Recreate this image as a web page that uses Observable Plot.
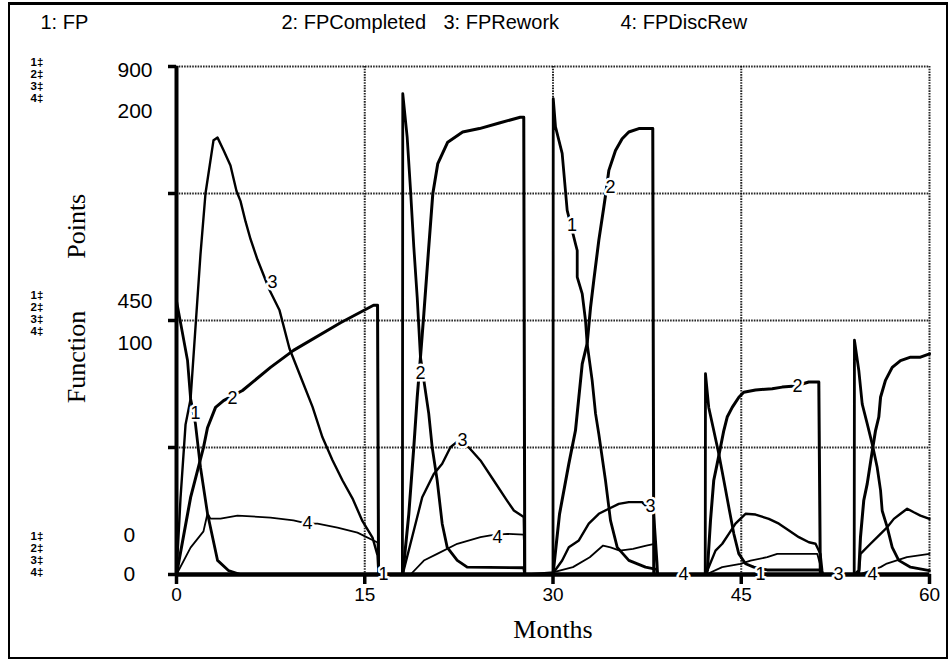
<!DOCTYPE html>
<html><head><meta charset="utf-8">
<script src="https://cdn.jsdelivr.net/npm/d3@7"></script>
<script src="https://cdn.jsdelivr.net/npm/@observablehq/plot@0.6"></script>
<style>
html,body{margin:0;padding:0;background:#fff;}
#chart{position:relative;width:951px;height:667px;overflow:hidden;}
#border{position:absolute;left:8px;top:2px;width:936px;height:652px;border:2px solid #000;border-top-width:3px;pointer-events:none;}
</style></head><body><div id="chart"><div id="border"></div></div>
<script>
// ---- data (months, value) ----
const legendItems = ["1: FP", "2: FPCompleted", "3: FPRework", "4: FPDiscRew"];
const monthTicks = [0, 15, 30, 45, 60];
const gridValues = [225, 450, 675, 900];
const tickValues = [0, 450, 900];
const labelsScaleA = ["0", "450", "900"];   // series 1, 2 (0-900)
const labelsScaleB = ["0", "100", "200"];   // series 3, 4 (0-200)

const FP = [[0,0],[0,485],[0.88,379],[1.12,312],[1.51,267],[1.91,190],[2.47,108],[3.27,25],[4.14,7],[5.1,0],
[18.0,0],[18.03,852],[18.38,775],[18.65,680],[18.91,580],[19.18,491],[19.44,385],[19.71,344],[20.1,285],[20.37,226],[20.77,167],[21.17,90],[21.57,48],[22.37,25],[23.16,13],[27.67,12],[27.75,0],
[30.0,0],[30.02,843],[30.2,793],[30.73,746],[31.13,645],[31.79,586],[31.93,574],[31.93,527],[32.33,497],[32.59,450],[32.72,409],[33.12,344],[33.39,285],[33.65,249],[34.18,167],[34.58,96],[35.12,48],[36.04,25],[37.37,13],[38.25,9],[38.3,0],
[42.13,0],[42.15,356],[42.41,296],[42.81,255],[43.21,214],[43.61,167],[44.01,119],[44.41,72],[44.8,37],[45.34,19],[46.0,13],[47.07,8],[51.3,8],[51.4,0],
[54.0,0],[54.02,415],[54.37,361],[54.64,302],[55.04,267],[55.49,226],[55.83,190],[56.1,149],[56.23,113],[56.63,84],[57.03,48],[57.55,25],[58.49,13],[60,7]];

const FPCompleted = [[0,0],[1.12,136],[2.15,225],[2.47,260],[3.11,296],[3.75,308],[5.26,326],[7.49,367],[9.32,397],[13.07,446],[15.7,477],[16.02,477],[16.1,0],
[18.03,0],[18.51,107],[18.91,226],[19.18,314],[19.44,385],[19.71,462],[20.1,580],[20.42,674],[20.82,728],[21.61,766],[22.8,784],[24.14,790],[25.72,800],[27.39,810],[27.67,810],[27.75,0],
[30.0,0],[30.52,107],[31.26,196],[31.79,255],[32.06,314],[32.33,373],[32.72,409],[32.99,473],[33.25,521],[33.65,592],[34.05,651],[34.18,671],[34.45,716],[34.98,751],[35.51,772],[36.04,784],[36.84,790],[37.95,790],[38.03,0],
[42.15,0],[42.3,7],[42.55,96],[42.81,167],[43.08,196],[43.35,226],[43.61,255],[43.88,279],[44.28,296],[44.81,314],[45.2,323],[46.14,327],[47.47,329],[48.26,332],[49.32,334],[50.38,341],[51.18,341],[51.3,0],
[54.02,0],[54.37,7],[54.5,66],[54.76,131],[55.04,161],[55.49,226],[55.7,255],[55.96,279],[56.1,314],[56.49,344],[57.03,367],[57.69,379],[58.49,385],[59.28,385],[60,391]];

const FPRework = [[0,0],[0.32,30],[0.72,59],[1.12,69],[1.91,126],[2.31,150],[2.95,171],[3.27,172],[3.75,167],[4.3,161],[4.78,151],[5.1,147],[5.5,139],[5.9,132],[6.45,124],[7.41,112],[8.21,104],[9.0,89],[10.04,76],[10.84,66],[11.63,54],[12.43,45],[13.23,37],[14.02,30],[14.82,21],[15.62,14.5],[16.02,7.5],[16.1,0],
[18.03,0],[18.1,1.6],[18.91,17.3],[19.58,30.4],[20.5,39.6],[21.17,43.6],[21.83,50.1],[22.3,52],[23.28,50.1],[24.22,44.9],[25.28,37],[26.35,29],[26.88,25.2],[27.67,22.6],[27.75,0],
[30.0,0],[30.06,0.9],[30.73,5.5],[31.26,10.7],[32.06,13.4],[32.85,20],[33.65,23.9],[34.45,25.9],[35.24,27.8],[36.04,28.5],[37.1,28.5],[38.04,23.9],[38.3,5],[38.35,0],
[42.15,0],[42.3,1.6],[42.95,9.4],[43.49,12.1],[44.01,16],[44.54,20],[45.34,23.9],[46.14,23.6],[47.2,21.9],[48.0,20],[48.8,17.3],[49.59,14.7],[50.39,12.7],[50.92,12.1],[51.31,8.1],[51.45,1.6],[51.5,0],
[54.37,0],[54.5,8.1],[55.3,12.1],[56.1,16],[56.63,18.6],[57.16,21.9],[57.69,23.9],[58.22,25.9],[58.75,24.5],[59.28,23.2],[60,21.9]];

const FPDiscRew = [[0,0],[1.12,10.6],[2.15,17],[2.47,24],[2.71,22],[3.51,22],[4.86,23.2],[7.49,22.4],[9.32,21.3],[10.44,20],[11.24,20],[12.83,18.5],[14.42,16.5],[16.02,12.6],[16.1,0],
[18.65,0],[19.71,5.5],[20.77,8.1],[22.37,12.1],[24.22,14.7],[25.02,15.4],[26.35,16],[27.67,15.7],[27.75,0],
[30.06,0.9],[31.59,2.9],[32.93,6.8],[33.99,11.4],[34.58,10.7],[35.32,9.4],[36.38,10.1],[37.43,11.4],[38.1,12.1],[38.25,2.9],[38.35,0],
[42.2,0],[43.48,2.9],[44.94,4.2],[45.74,5.5],[47.07,6.8],[47.87,8.1],[51.06,8.1],[51.5,0],
[54.4,0],[56.1,2.9],[56.6,4.3],[58.2,6.8],[60,8.1]];

// line labels: [series, month, value in that series' units]
const lineLabels = [[1,1.51,285],[2,4.46,312],[3,7.65,115],[4,10.44,20],[1,16.49,0],
[2,19.44,356],[3,22.79,52.8],[4,25.58,14.6],
[1,31.51,618],[2,34.58,686],[3,37.77,26.8],[4,40.4,0],
[1,46.53,0],[2,49.48,333],[3,52.75,0],[4,55.46,0]];

// ---- build ----
const ratioB = 900 / 200; // series 3 and 4 use the 0-200 scale
const toY = (s, v) => (s >= 3 ? v * ratioB : v);
const rows = (arr, s) => arr.map(([m, v]) => ({series: s, month: m, y: toY(s, v)}));
const seriesData = [FP, FPCompleted, FPRework, FPDiscRew].map((a, i) => rows(a, i + 1));
const widths = [2.8, 3, 2.4, 1.8];
const labelRows = lineLabels.map(([s, m, v]) => ({month: m, y: toY(s, v), text: String(s)}));

const sans = "'Liberation Sans', Arial, Helvetica, sans-serif";
const serif = "'Liberation Serif', 'Times New Roman', serif";

const marks = [];
const dotted = {stroke: "#000", strokeOpacity: 0.85, strokeWidth: 2, strokeDasharray: "1.6,1.1"};
marks.push(Plot.gridX({ticks: monthTicks.slice(1), ...dotted}));
marks.push(Plot.gridY({ticks: gridValues, ...dotted}));
seriesData.forEach((d, i) => marks.push(Plot.line(d, {x: "month", y: "y", stroke: "#000", strokeWidth: widths[i], strokeLinejoin: "round"})));
marks.push(Plot.ruleX([0], {stroke: "#000", strokeWidth: 4}));
marks.push(Plot.ruleY([0], {stroke: "#000", strokeWidth: 4.5}));
marks.push(Plot.axisX({ticks: monthTicks, tickSize: 10, strokeWidth: 3.5, tickPadding: 3, fontSize: 19, label: null, tickFormat: d => String(d)}));
marks.push(Plot.axisY({ticks: [0, ...gridValues], tickSize: 8, strokeWidth: 3.5, tickFormat: () => "", label: null}));
marks.push(Plot.text(labelRows, {x: "month", y: "y", text: "text", fill: "#000", stroke: "#fff", strokeWidth: 5, fontSize: 18, fontFamily: sans}));

// y-axis value labels (two scales)
const offA = [-39, -19, 4], offB = [0, 23, 45];
tickValues.forEach((t, i) => {
  const dx = i === 0 ? -53 : -59;
  marks.push(Plot.text([t], {y: d => d, text: () => labelsScaleA[i], frameAnchor: "left", dx, dy: offA[i], textAnchor: "start", lineAnchor: "middle", fontSize: 21, letterSpacing: 2.5, fontFamily: sans}));
  marks.push(Plot.text([t], {y: d => d, text: () => labelsScaleB[i], frameAnchor: "left", dx, dy: offB[i], textAnchor: "start", lineAnchor: "middle", fontSize: 21, letterSpacing: 2.5, fontFamily: sans}));
});
// series number stacks
const stackOff = [[-38, -26, -14, -2], [-25, -13, -1, 11], [-4, 8, 20, 32]];
tickValues.forEach((t, i) => {
  ["1","2","3","4"].forEach((n, k) => {
    marks.push(Plot.text([t], {y: d => d, text: () => n + "\u2021", frameAnchor: "left", dx: -146, dy: stackOff[i][k], textAnchor: "start", lineAnchor: "middle", fontSize: 11.5, fontWeight: "bold", fontFamily: sans}));
  });
});
// legend
const legendDx = [-136, 105, 267, 444];
legendItems.forEach((t, i) => marks.push(Plot.text([t], {frameAnchor: "top-left", dx: legendDx[i], dy: -44, textAnchor: "start", lineAnchor: "middle", fontSize: 20, letterSpacing: 0.4, fontFamily: sans})));
// axis titles
marks.push(Plot.text(["Months"], {frameAnchor: "bottom", dy: 55, lineAnchor: "middle", textAnchor: "middle", fontSize: 26, fontFamily: serif, letterSpacing: 1.5}));
marks.push(Plot.text(["Function\u00A0\u00A0\u00A0\u00A0\u00A0\u00A0\u00A0\u00A0Points"], {frameAnchor: "left", dx: -100, dy: -22, rotate: -90, textAnchor: "middle", lineAnchor: "middle", fontSize: 26, fontFamily: serif, letterSpacing: 1.2}));

const chart = Plot.plot({
  width: 951, height: 667,
  marginLeft: 176, marginRight: 22, marginTop: 66, marginBottom: 93,
  x: {domain: [0, 60]},
  y: {domain: [0, 900]},
  style: {background: "transparent", fontFamily: sans, color: "#000"},
  marks
});
document.getElementById("chart").prepend(chart);
</script></body></html>
